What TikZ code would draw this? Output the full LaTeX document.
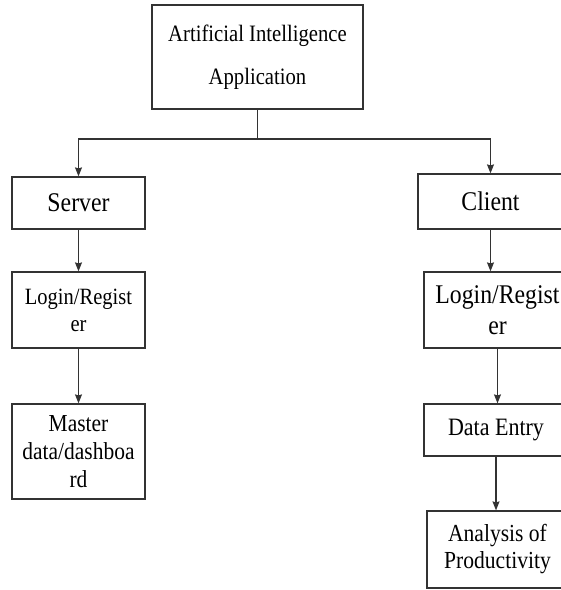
\documentclass[tikz,border=0pt]{standalone}
\usepackage{fontspec}
\setmainfont[FakeStretch=0.88]{Liberation Serif}
\usetikzlibrary{arrows.meta}
\tikzset{>={Stealth[length=9pt,width=7pt,inset=1pt]}}
\tikzset{box/.style={draw=black!80, line width=1.2pt, align=center, inner sep=0pt}}
\tikzset{link/.style={black!80, line width=1.2pt}}

\begin{document}
\begin{tikzpicture}[x=1pt,y=-1pt]
    \clip (0,0) rectangle (561,590);
    % top of the tree
    \node[box, minimum width=211, minimum height=104, font=\fontsize{23.5}{43}\selectfont] (app) at (257.5,57) {Artificial Intelligence\\Application};
    \coordinate (split) at (257.5,139);
    % server side
    \node[box, minimum width=133, minimum height=52, font=\fontsize{27}{31}\selectfont] (server) at (78.5,203) {Server};
    \node[box, minimum width=133, minimum height=76, font=\fontsize{23.3}{27}\selectfont] (loginS) at (78.5,310) {Login/Regist\\er};
    \node[box, minimum width=133, minimum height=95, font=\fontsize{24.4}{28}\selectfont] (master) at (78.5,451.5) {Master\\data/dashboa\\rd};
    % client side
    \node[box, minimum width=145, minimum height=55, font=\fontsize{27}{31}\selectfont] (client) at (490.5,201.5) {Client};
    \node[box, minimum width=147, minimum height=76, font=\fontsize{27}{31}\selectfont] (loginC) at (497.5,310) {Login/Regist\\er};
    \node[box, minimum width=144, minimum height=52, font=\fontsize{25}{29}\selectfont] (entry) at (496,430) {Data Entry};
    \node[box, minimum width=141, minimum height=77, font=\fontsize{24.5}{27}\selectfont] (analysis) at (497.5,549.5) {Analysis of\\Productivity};
    % connectors
    \draw[link] (app) -- (split);
    \draw[link, ->] (split) -| (server);
    \draw[link, ->] (split) -| (client);
    \draw[link, ->] (server) -- (loginS);
    \draw[link, ->] (loginS) -- (master);
    \draw[link, ->] (client.south) -- (client.south |- loginC.north);
    \draw[link, ->] (loginC.south) -- (loginC.south |- entry.north);
    \draw[link, ->] (entry.south) -- (entry.south |- analysis.north);
\end{tikzpicture}
\end{document}
